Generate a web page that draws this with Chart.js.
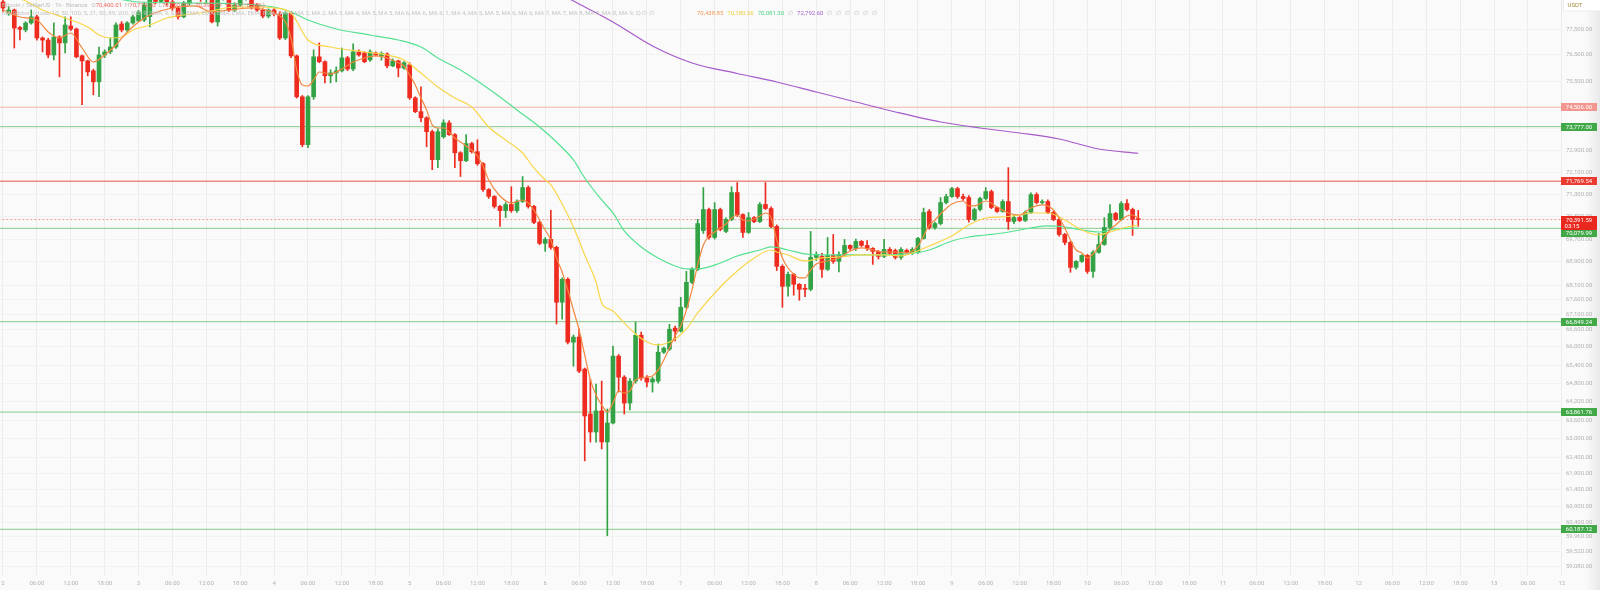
<!DOCTYPE html>
<html>
<head>
<meta charset="utf-8">
<title>BTCUSDT 1h</title>
<script src="https://cdn.jsdelivr.net/npm/chart.js@4.4.1/dist/chart.umd.min.js"></script>
<style>
  html, body { margin: 0; padding: 0; background: #fafafa; }
  #chart { display: block; }
</style>
</head>
<body>
<canvas id="chart" width="1600" height="590"></canvas>
<script>
// hourly candles, index 0 = day 2 00:00
const opens = [
  78580, 78140, 78260, 77570, 77474, 77750, 77990, 77160, 77080, 76500, 77200, 76970,
  77630, 77510, 76470, 76270, 75890, 75470, 76500, 76620, 76810, 77710, 77474, 77750,
  77830, 77866, 78000, 78750, 78600, 78850, 78580, 78340, 77990, 78540, 78800, 78950,
  78700, 78750, 77790, 78700, 78950, 78260, 78458, 78750, 78850, 78458, 78260, 78020,
  78260, 78100, 77160, 78140, 76465, 74900, 73110, 74900, 76430, 76240, 75700, 75810,
  75890, 76390, 75960, 76620, 76580, 76310, 76580, 76470, 76540, 76080, 76270, 76000,
  76120, 74860, 74340, 74110, 73590, 72557, 73400, 73920, 73480, 72810, 72520, 73150,
  72850, 72410, 71467, 71220, 70860, 70710, 70930, 70710, 71040, 71540, 70860, 70290,
  69550, 69690, 69410, 67510, 68296, 66160, 66330, 65265, 63800, 63223, 63900, 62906,
  63510, 65695, 65000, 64155, 64870, 66390, 64970, 64840, 64870, 65825, 65927, 66630,
  66530, 67338, 68193, 68641, 70000, 70750, 69758, 70750, 69970, 70394, 71360, 70570,
  69935, 70460, 70320, 70930, 70786, 70146, 68745, 68055, 68468, 68124, 67990, 67952,
  69058, 69092, 68641, 69127, 68919, 69160, 69476, 69371, 69618, 69476, 69371, 69267,
  69092, 69337, 69300, 69058, 69302, 69232, 69232, 69723, 70680, 70110, 70250, 71000,
  71215, 71503, 71215, 71180, 70394, 70750, 71145, 71395, 70822, 70680, 71036, 70323,
  70465, 70360, 70643, 71287, 71000, 71036, 70643, 70394, 69863, 69583, 68710, 68919,
  69127, 68571, 69232, 69511, 70110, 70607, 70394, 70965, 70750, 70400.01
]
const highs = [
  78700, 78400, 78300, 77620, 77800, 78260, 78050, 77200, 77150, 77750, 77250, 77990,
  77990, 77550, 76500, 76300, 75950, 76810, 76700, 77160, 77750, 77800, 77800, 78050,
  78250, 78550, 78900, 78950, 79000, 78950, 78650, 78400, 78600, 78900, 79100, 79050,
  78850, 78800, 78750, 79100, 79000, 78550, 78800, 79000, 78900, 78500, 78300, 78300,
  78320, 78200, 78200, 78200, 76500, 74950, 74950, 76700, 76970, 76270, 75930, 76040,
  76770, 76450, 76930, 76700, 76620, 76700, 76620, 76620, 76580, 76350, 76300, 76250,
  76200, 74900, 75280, 74150, 73650, 73700, 74035, 74000, 73520, 72850, 73480, 73200,
  73290, 72450, 71500, 71250, 70900, 71000, 71570, 71100, 71940, 71600, 70900, 70330,
  69750, 70720, 69450, 68350, 68350, 66400, 66600, 65300, 64937, 64770, 64870, 63961,
  66030, 65750, 65050, 64950, 66830, 66500, 65050, 65000, 66095, 66000, 66760, 66700,
  67678, 68571, 68700, 70400, 71540, 70800, 71000, 70800, 70450, 71570, 71720, 70600,
  70640, 70500, 71000, 71720, 70850, 70200, 68800, 68550, 68500, 68150, 68124, 69970,
  69250, 69200, 69758, 69863, 69250, 69688, 69500, 69700, 69650, 69650, 69400, 69300,
  69688, 69400, 69350, 69400, 69350, 69400, 69760, 70800, 70750, 70300, 71180, 71300,
  71550, 71550, 71300, 71250, 70800, 71200, 71540, 71450, 70850, 71100, 72265, 70550,
  70500, 70700, 71350, 71350, 71100, 71100, 70700, 70450, 69900, 69620, 68950, 69150,
  69160, 69300, 69900, 70460, 70930, 70650, 71036, 71108, 70800, 70719.2
]
const lows = [
  78180, 78050, 76770, 77084, 77400, 77700, 77080, 76620, 76390, 76310, 75660, 76580,
  77450, 76390, 74600, 75700, 74975, 74900, 76400, 76550, 76750, 77400, 77400, 77700,
  77800, 77800, 77590, 78500, 78550, 78450, 78250, 77900, 77950, 78450, 78700, 78600,
  78550, 77750, 77630, 78650, 78200, 78200, 78400, 78650, 78300, 78200, 77950, 77950,
  78030, 77100, 77100, 76400, 74850, 73030, 73000, 74800, 76200, 75430, 75430, 75470,
  75850, 75900, 75900, 76450, 76200, 76250, 76460, 76300, 76000, 76050, 75660, 75950,
  74800, 74300, 73960, 73030, 72192, 72260, 73350, 73450, 72260, 71940, 72480, 72800,
  72350, 71400, 71150, 70800, 70150, 70460, 70650, 70650, 71000, 70800, 70250, 69500,
  69270, 69350, 66770, 66932, 66100, 65360, 65150, 62306, 62900, 62900, 62684, 59990,
  63480, 64512, 63800, 63930, 64800, 64900, 64680, 64512, 64800, 65780, 65880, 66200,
  66500, 67300, 68150, 68600, 69900, 69700, 69700, 69990, 69930, 70350, 70500, 69758,
  69900, 70280, 70280, 70750, 70100, 68600, 67338, 67713, 67750, 67576, 67700, 67900,
  68950, 68365, 68600, 68850, 68550, 69100, 69300, 69300, 69440, 69300, 68814, 69000,
  69050, 69150, 69000, 68990, 69190, 69160, 69200, 69700, 70050, 70050, 70200, 70950,
  71180, 71150, 71080, 70300, 70350, 70700, 71100, 70780, 70650, 70650, 70040, 70250,
  70320, 70320, 70600, 70950, 70950, 70600, 70350, 69800, 69500, 68540, 68650, 68880,
  68500, 68365, 69200, 69480, 70050, 70350, 70350, 70700, 69828, 70150
]
const closes = [
  78340, 78260, 77550, 77500, 77750, 77990, 77160, 77080, 76500, 77200, 76970, 77670,
  77510, 76430, 76270, 75850, 75470, 76500, 76620, 76810, 77670, 77474, 77750, 77990,
  78180, 78458, 78750, 78600, 78850, 78580, 78340, 77990, 78540, 78800, 78950, 78700,
  78750, 77790, 78700, 78950, 78260, 78458, 78750, 78850, 78380, 78260, 78020, 78260,
  78100, 77160, 78140, 76465, 74900, 73110, 74900, 76430, 76240, 75700, 75810, 75890,
  76390, 75960, 76620, 76500, 76240, 76620, 76500, 76560, 76080, 76270, 76000, 76200,
  74860, 74340, 74110, 73590, 72557, 73590, 73920, 73480, 72810, 72520, 73150, 72850,
  72410, 71467, 71220, 70860, 70710, 70930, 70710, 71040, 71540, 70860, 70290, 69550,
  69690, 69410, 67510, 68296, 66160, 66330, 65200, 63737, 63223, 63900, 62906, 63510,
  65695, 65000, 64155, 64870, 66390, 64970, 64840, 64937, 65825, 65960, 66595, 66530,
  67338, 68193, 68641, 70250, 70750, 69758, 70750, 70040, 70394, 71360, 70570, 69935,
  70460, 70320, 70930, 70786, 70146, 68745, 68055, 68468, 68124, 67952, 67952, 69058,
  69160, 68641, 69127, 68919, 69160, 69476, 69371, 69618, 69476, 69371, 69267, 69092,
  69337, 69200, 69058, 69337, 69232, 69337, 69723, 70643, 70110, 70250, 71000, 71215,
  71503, 71215, 71145, 70394, 70750, 71145, 71395, 70822, 70680, 71036, 70323, 70465,
  70360, 70643, 71287, 71000, 71036, 70643, 70394, 69863, 69583, 68710, 68919, 69127,
  68571, 69232, 69511, 70110, 70607, 70394, 70965, 70750, 70400, 70391.59
]

// moving averages (hour, price)
const emaFastHours = [0, 3, 6, 8, 10, 12, 14, 16, 18, 20, 22, 24, 26, 30, 34, 37, 40, 44, 48, 50,
  51, 52, 53, 54, 55, 56, 58, 60, 62, 64, 66, 68, 70, 71, 72, 73, 74, 75, 76, 77,
  78, 80, 82, 84, 85, 86, 88, 90, 92, 93, 94, 95, 96, 97, 98, 99, 100, 101, 102, 103,
  104, 105, 106, 107, 108, 109, 110, 111, 112, 113, 114, 115, 116, 117, 118, 119, 120, 121, 122, 123,
  124, 125, 126, 127, 128, 129, 130, 131, 132, 133, 134, 135, 136, 137, 138, 139, 140, 141, 142, 143,
  144, 146, 148, 150, 152, 154, 156, 158, 160, 162, 163, 164, 165, 166, 168, 170, 171, 172, 174, 176,
  178, 180, 182, 184, 186, 187, 188, 189, 190, 191, 192, 193, 194, 195, 196, 197, 198, 199, 200, 201]
const emaFast = [78260, 77984, 77866, 77395, 77160, 77356, 76771, 76230, 76500, 76888,
  77395, 77787, 78063, 78340, 78420, 78181, 78260, 78340, 78141, 77787,
  77160, 75922, 75348, 75310, 75539, 75845, 75768, 75960, 76230, 76384,
  76462, 76384, 76191, 76076, 75730, 75348, 74855, 74402, 73840, 73728,
  73728, 73356, 73060, 72691, 72325, 71815, 71236, 70985, 71092, 70985,
  70734, 70377, 70022, 69669, 69038, 68551, 67930, 67246, 66570, 65733,
  64908, 64417, 64092, 63866, 64157, 64548, 64482, 64548, 64908, 64973,
  65006, 65039, 65237, 65567, 65966, 66368, 66704, 67246, 67930, 68794,
  69493, 69810, 69951, 70093, 70235, 70448, 70555, 70377, 70341, 70412,
  70519, 70626, 70448, 69669, 69038, 68689, 68481, 68343, 68343, 68620,
  68828, 68933, 69038, 69282, 69388, 69317, 69247, 69247, 69213, 69458,
  69810, 70199, 70377, 70591, 70949, 71056, 70877, 70877, 71056, 70841,
  70626, 70555, 70805, 70913, 70734, 70448, 70093, 69669, 69317, 69213,
  69038, 69178, 69423, 69739, 70022, 70199, 70377, 70519, 70555, 70438.85]

const emaMidHours = [0, 4, 7, 11, 15, 17, 19, 21, 23, 26, 29, 32, 36, 41, 45, 48, 51, 54, 58, 64,
  68, 71, 74, 77, 80, 83, 86, 89, 92, 94, 96, 97, 99, 101, 103, 105, 106, 108, 109, 112,
  114, 116, 119, 121, 123, 127, 130, 133, 136, 137, 139, 142, 145, 148, 152, 156, 159, 161, 164, 168,
  171, 174, 177, 180, 182, 185, 188, 191, 194, 196, 199, 201]
const emaMid = [78976, 78617, 78260, 77944, 77590, 77277, 77160, 77199, 77473, 77669,
  77944, 78063, 78181, 78379, 78379, 78340, 78141, 77082, 76810, 76616,
  76500, 76307, 75806, 75272, 74855, 74515, 73765, 73282, 72802, 72252,
  71815, 71633, 70949, 70128, 69143, 68205, 67485, 67212, 67008, 66435,
  66167, 66067, 66267, 66603, 67144, 68033, 68585, 69038, 69317, 69247,
  69143, 68933, 69038, 69073, 69143, 69143, 69108, 69213, 69458, 69810,
  70199, 70448, 70484, 70555, 70626, 70626, 70377, 70022, 69845, 69951,
  70128, 70180.26]

const emaSlowHours = [0, 10, 18, 24, 32, 42, 48, 51, 54, 59, 65, 70, 74, 77, 81, 84, 88, 91, 95, 98,
  101, 103, 106, 108, 110, 113, 116, 119, 121, 123, 127, 130, 134, 136, 139, 142, 146, 151, 155, 160,
  164, 168, 171, 174, 177, 180, 182, 185, 188, 191, 194, 197, 201]
const emaSlow = [79537, 79133, 78816, 78577, 78538, 78498, 78379, 78181, 77866, 77512,
  77277, 77082, 76810, 76384, 75922, 75501, 74892, 74402, 73765, 73208,
  72545, 71887, 71092, 70627, 69987, 69423, 69038, 68759, 68655, 68655,
  68863, 69108, 69317, 69423, 69317, 69178, 69143, 69143, 69143, 69178,
  69317, 69634, 69774, 69845, 69916, 70022, 70093, 70164, 70128, 70022,
  69951, 70058, 70081.3]

const ema200Hours = [94, 101, 108, 115, 122, 130, 137, 144, 151, 158, 166, 173, 180, 187, 194, 201]
const ema200 = [79457, 78617, 77787, 76848, 76191, 75788, 75463, 75082, 74703, 74327,
  73952, 73728, 73542, 73319, 72949, 72792.6]

// horizontal levels
const levelValues = [74506.0, 73777.0, 71769.54, 70079.99, 66849.24, 63861.76, 60187.12]
const levelLineColors = ["#f7b4ae", "#84cb89", "#f28a83", "#84cb89", "#84cb89", "#84cb89", "#84cb89"]
const levelTagColors = ["#f2978f", "#40a847", "#eb3a2f", "#40a847", "#40a847", "#40a847", "#40a847"]
const levelLineWidths = [1, 1, 1.6, 1, 1, 1, 1]
const levelTagShift = [0, 0, 0, 5, 0, 0, 0]
const lastPrice = 70391.59
const countdown = "03:15"

const yTickValues = [77500, 76500, 75500, 74500, 73700, 72900, 72100, 71300, 70500, 69700,
  68900, 68100, 67600, 67100, 66600, 66000, 65400, 64800, 64200, 63600, 63000,
  62400, 61900, 61400, 60900, 60400, 59960, 59520, 59080]
const xTickLabels = ["2", "06:00", "12:00", "18:00", "3", "06:00", "12:00", "18:00",
  "4", "06:00", "12:00", "18:00", "5", "06:00", "12:00", "18:00",
  "6", "06:00", "12:00", "18:00", "7", "06:00", "12:00", "18:00",
  "8", "06:00", "12:00", "18:00", "9", "06:00", "12:00", "18:00",
  "10", "06:00", "12:00", "18:00", "11", "06:00", "12:00", "18:00",
  "12", "06:00", "12:00", "18:00", "13", "06:00", "12"]

const titleText = "Bitcoin / TetherUS · 1h · Binance"
const ohlcText = [["O", "70,400.01"], ["H", "70,719.20"], ["L", "70,150.00"], ["C", "70,391.59"]]
const changeText = "−8.42 (−0.01%)"
const studyText = "MA Ribbon (close, 10, 50, 100, 5, 21, 50, 89, 200, 300, 9, SMA, 9, SMA, EMA, EMA, EMA, EMA, EMA, EMA, MA 1, MA 2, MA 2, MA 3, MA 4, MA 5, MA 5, MA 6, MA 6, MA 6, 1, MA 4, MA 5, MA 5, MA 6, MA 6, MA 7, MA 7, MA 8, MA 8, MA 8, MA 9, 2) ∅ ∅"
const studyValues = ["70,438.85", "70,180.26", "70,081.30", "∅", "72,792.60", "∅", "∅", "∅", "∅", "∅", "∅"]
const studyColors = ["#f39a5b", "#efcd3c", "#4fd585", "#c4c4c4", "#a561c9", "#c4c4c4", "#c4c4c4", "#c4c4c4", "#c4c4c4", "#c4c4c4", "#c4c4c4"]

const UP = "#33a244"
const DOWN = "#ed2b1f"
const X_MIN = -0.53
const X_MAX = 276.03
const FONT = "Roboto"

const fmt = (v) => v.toLocaleString("en-US", { minimumFractionDigits: 2, maximumFractionDigits: 2 })
const candleColors = closes.map((c, i) => (c >= opens[i] ? UP : DOWN))
const pairs = (hs, vs) => hs.map((h, i) => ({ x: h, y: vs[i] }))

function maLine(label, hs, vs, color) {
  return {
    type: "line", label, data: pairs(hs, vs), borderColor: color, borderWidth: 1.2,
    pointRadius: 0, cubicInterpolationMode: "monotone", order: 1,
  }
}

const levelSets = levelValues.map((v, i) => ({
  type: "line", label: "level " + v, data: [{ x: X_MIN - 1, y: v }, { x: X_MAX + 1, y: v }],
  borderColor: levelLineColors[i], borderWidth: levelLineWidths[i], pointRadius: 0, order: 6,
}))

// background
const backdrop = {
  id: "backdrop",
  beforeDraw(chart) {
    const { ctx, width, height } = chart
    ctx.save()
    ctx.fillStyle = "#fafafa"
    ctx.fillRect(0, 0, width, height)
    ctx.restore()
  },
}

// price tags, legend texts, currency box
const overlay = {
  id: "overlay",
  afterDraw(chart) {
    const { ctx } = chart
    const y = chart.scales.y
    ctx.save()

    // right edge shade
    const g = ctx.createLinearGradient(1586, 0, 1600, 0)
    g.addColorStop(0, "rgba(0,0,0,0)")
    g.addColorStop(1, "rgba(0,0,0,0.07)")
    ctx.fillStyle = g
    ctx.fillRect(1586, 0, 14, 590)

    ctx.font = "6px " + FONT
    ctx.textAlign = "center"
    ctx.textBaseline = "middle"
    levelValues.forEach((v, i) => {
      const py = Math.round(y.getPixelForValue(v)) + levelTagShift[i]
      ctx.fillStyle = levelTagColors[i]
      ctx.fillRect(1561, py - 4, 36, 8)
      ctx.fillStyle = "#ffffff"
      ctx.fillText(fmt(v), 1579, py + 0.5)
    })
    const cy = Math.round(y.getPixelForValue(lastPrice))
    ctx.fillStyle = "#e8281e"
    ctx.fillRect(1561, cy - 4, 36, 14)
    ctx.fillStyle = "#ffffff"
    ctx.fillText(fmt(lastPrice), 1579, cy + 0.5)
    ctx.fillText(countdown, 1572, cy + 6.5)

    // USDT box
    ctx.fillStyle = "#ffffff"
    ctx.fillRect(1563, 0, 37, 11)
    ctx.strokeStyle = "#ececec"
    ctx.strokeRect(1563.5, -1, 37, 12)
    ctx.fillStyle = "#a08c3c"
    ctx.fillText("USDT", 1575, 5.5)

    // legend lines
    ctx.textAlign = "left"
    let x = 2
    ctx.fillStyle = "#bdbdbd"
    ctx.fillText(titleText, x, 5.5)
    x += ctx.measureText(titleText).width + 4
    ohlcText.forEach(([k, v]) => {
      ctx.fillStyle = "#bdbdbd"
      ctx.fillText(k, x, 5.5)
      x += ctx.measureText(k).width
      ctx.fillStyle = "#ee6a60"
      ctx.fillText(v, x, 5.5)
      x += ctx.measureText(v).width + 3
    })
    ctx.fillText(changeText, x, 5.5)

    ctx.fillStyle = "#c4c4c4"
    ctx.fillText(studyText, 2, 13.5)
    x = 697
    studyValues.forEach((t, i) => {
      ctx.fillStyle = studyColors[i]
      ctx.fillText(t, x, 13.5)
      x += ctx.measureText(t).width + 4
    })
    ctx.restore()
  },
}

Chart.defaults.font.family = FONT

new Chart(document.getElementById("chart"), {
  type: "bar",
  data: {
    datasets: [
      maLine("EMA 10", emaFastHours, emaFast, "#f2873f"),
      maLine("EMA 21", emaMidHours, emaMid, "#f9d64a"),
      maLine("EMA 50", emaSlowHours, emaSlow, "#55e191"),
      maLine("EMA 200", ema200Hours, ema200, "#a65ac9"),
      {
        type: "bar", label: "body", data: opens.map((o, i) => ({ x: i, y: [o, closes[i]] })),
        backgroundColor: candleColors, barThickness: 4, minBarLength: 1, grouped: false, order: 2,
      },
      {
        type: "bar", label: "wick", data: lows.map((l, i) => ({ x: i, y: [l, highs[i]] })),
        backgroundColor: candleColors, barThickness: 1, grouped: false, order: 3,
      },
      ...levelSets,
      {
        type: "line", label: "last", data: [{ x: X_MIN - 1, y: lastPrice }, { x: X_MAX + 1, y: lastPrice }],
        borderColor: "#f39a92", borderWidth: 1, borderDash: [2, 2], pointRadius: 0, order: 7,
      },
    ],
  },
  options: {
    responsive: false,
    animation: false,
    events: [],
    layout: { padding: 0 },
    plugins: { legend: { display: false }, tooltip: { enabled: false } },
    scales: {
      x: {
        type: "linear", min: X_MIN, max: X_MAX, offset: false,
        afterBuildTicks: (s) => { s.ticks = xTickLabels.map((_, i) => ({ value: i * 6 })) },
        afterFit: (s) => {
          s.height = 15
          s.paddingLeft = 0
          s.paddingRight = 0
        },
        ticks: {
          autoSkip: false, maxRotation: 0, padding: 5, color: "#b3b3b3",
          font: { size: 6, family: FONT },
          callback: (v, i) => xTickLabels[i],
        },
        grid: { color: "#ececec", drawTicks: false, offset: false },
        border: { display: false },
      },
      y: {
        type: "logarithmic", position: "right", min: 58812, max: 78657,
        afterBuildTicks: (s) => { s.ticks = yTickValues.map((v) => ({ value: v })) },
        afterFit: (s) => {
          s.width = 38
          s.paddingTop = 0
          s.paddingBottom = 0
        },
        ticks: {
          padding: 4, crossAlign: "near", color: "#b3b3b3",
          font: { size: 6, family: FONT },
          callback: (v) => fmt(v),
        },
        grid: { color: "#f1f1f1", drawTicks: false },
        border: { display: false },
      },
    },
  },
  plugins: [backdrop, overlay],
})
</script>
</body>
</html>
